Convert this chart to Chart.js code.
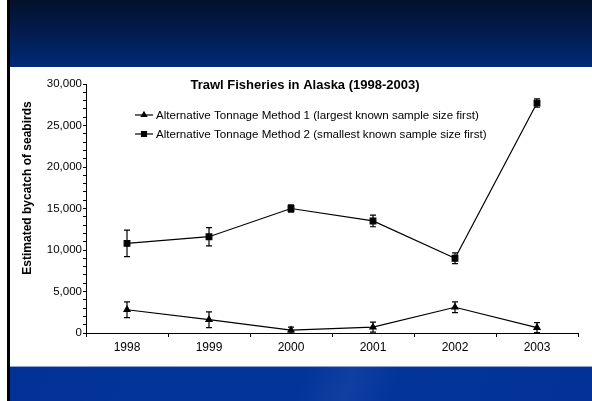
<!DOCTYPE html>
<html>
<head>
<meta charset="utf-8">
<script src="https://cdn.jsdelivr.net/npm/chart.js@4"></script>
<style>
  html, body { margin: 0; padding: 0; background: #fff; }
  body { width: 592px; height: 401px; position: relative; overflow: hidden; }
  .edge { position: absolute; left: 7px; top: 0; width: 3px; height: 401px; background: #000; }
  .band-top { position: absolute; left: 10px; top: 0; width: 582px; height: 67px;
    background: linear-gradient(180deg, #03112c 0%, #021e52 55%, #012a78 100%); }
  .band-bottom { position: absolute; left: 10px; top: 366px; width: 582px; height: 35px;
    background: linear-gradient(110deg, #023296 0%, #033599 50%, #0f3fa0 58%, #03349a 66%, #023296 100%);
    border-top: 1px solid #8ea4cc; box-sizing: border-box; }
  .panel { position: absolute; left: 10px; top: 67px; width: 582px; height: 299px; background: #fff; }
</style>
</head>
<body>
<div class="edge"></div>
<div class="band-top"></div>
<div class="panel"><canvas id="trawl"></canvas></div>
<div class="band-bottom"></div>
<script>
const years = ['1998', '1999', '2000', '2001', '2002', '2003'];

// method 1: largest known sample size first
const method1 = [2800, 1600, 350, 700, 3100, 650];
const method1Err = [950, 950, 350, 600, 650, 600];

// method 2: smallest known sample size first
const method2 = [10800, 11600, 15000, 13500, 9000, 27700];
const method2Err = [1600, 1100, 450, 700, 650, 500];

const chartTitle = 'Trawl Fisheries in Alaska (1998-2003)';
const yTitle = 'Estimated bycatch of seabirds';

const FONT = '"Liberation Sans", Arial, sans-serif';

// vertical error bars with caps, from each dataset's errors array
const errorBars = {
  id: 'errorBars',
  afterDatasetsDraw(chart) {
    const { ctx, scales: { y } } = chart;
    ctx.save();
    ctx.strokeStyle = '#000';
    ctx.lineWidth = 1.2;
    chart.data.datasets.forEach((ds, di) => {
      const meta = chart.getDatasetMeta(di);
      meta.data.forEach((pt, i) => {
        const err = ds.errors[i];
        const top = y.getPixelForValue(ds.data[i] + err);
        const bot = y.getPixelForValue(Math.max(ds.data[i] - err, 0));
        ctx.beginPath();
        ctx.moveTo(pt.x, top); ctx.lineTo(pt.x, bot);
        ctx.moveTo(pt.x - 3, top); ctx.lineTo(pt.x + 3, top);
        ctx.moveTo(pt.x - 3, bot); ctx.lineTo(pt.x + 3, bot);
        ctx.stroke();
      });
    });
    ctx.restore();
  }
};

// title, legend rows and y axis caption sitting over the plot area
const overlay = {
  id: 'overlay',
  afterDraw(chart) {
    const { ctx, chartArea: a } = chart;
    ctx.save();
    ctx.fillStyle = '#000';
    ctx.textBaseline = 'middle';

    ctx.font = 'bold 13px ' + FONT;
    ctx.textAlign = 'center';
    ctx.fillText(chartTitle, a.left + 219, a.top + 1);

    ctx.font = '11.6px ' + FONT;
    ctx.textAlign = 'left';
    chart.data.datasets.forEach((ds, i) => {
      const yy = a.top + 31 + i * 19;
      const x0 = a.left + 49;
      ctx.strokeStyle = '#000';
      ctx.lineWidth = 1.2;
      ctx.beginPath();
      ctx.moveTo(x0, yy); ctx.lineTo(x0 + 18, yy);
      ctx.stroke();
      Chart.helpers.drawPoint(ctx, {
        pointStyle: ds.pointStyle, radius: ds.legendRadius, borderWidth: 1
      }, x0 + 9, yy);
      ctx.fillText(ds.label, x0 + 21, yy + 0.5);
    });

    ctx.font = 'bold 12px ' + FONT;
    ctx.textAlign = 'center';
    ctx.translate(a.left - 58, a.top + 104);
    ctx.rotate(-Math.PI / 2);
    ctx.fillText(yTitle, 0, 0);
    ctx.restore();
  }
};

new Chart(document.getElementById('trawl'), {
  type: 'line',
  data: {
    labels: years,
    datasets: [
      {
        label: 'Alternative Tonnage Method 1 (largest known sample size first)',
        data: method1,
        errors: method1Err,
        pointStyle: 'triangle',
        pointRadius: 3.5,
        legendRadius: 3,
        borderColor: '#000',
        backgroundColor: '#000',
        borderWidth: 1.2,
        tension: 0,
      },
      {
        label: 'Alternative Tonnage Method 2 (smallest known sample size first)',
        data: method2,
        errors: method2Err,
        pointStyle: 'rect',
        pointRadius: 4,
        legendRadius: 3.5,
        borderColor: '#000',
        backgroundColor: '#000',
        borderWidth: 1.2,
        tension: 0,
      },
    ],
  },
  options: {
    responsive: true,
    maintainAspectRatio: false,
    animation: false,
    layout: { padding: { top: 17, right: 14, left: 0, bottom: 0 } },
    plugins: {
      legend: { display: false },
      title: { display: false },
      tooltip: { enabled: false },
    },
    scales: {
      x: {
        offset: true,
        grid: { offset: true, drawOnChartArea: false, color: '#000', tickLength: 4 },
        border: { color: '#000', width: 1 },
        ticks: { color: '#000', font: { family: FONT, size: 12 }, padding: 3 },
        afterFit: (s) => { s.height = 33; },
      },
      y: {
        min: 0,
        max: 30000,
        grid: { drawOnChartArea: false, color: '#000', tickLength: 3 },
        border: { color: '#000', width: 1 },
        ticks: {
          stepSize: 1000,
          autoSkip: false,
          color: '#000',
          padding: 1,
          font: { family: FONT, size: 11.5 },
          callback: (v) => (v % 5000 === 0 ? v.toLocaleString('en-US') : ''),
        },
        afterFit: (s) => { s.width = 76; },
      },
    },
  },
  plugins: [errorBars, overlay],
});
</script>
</body>
</html>
